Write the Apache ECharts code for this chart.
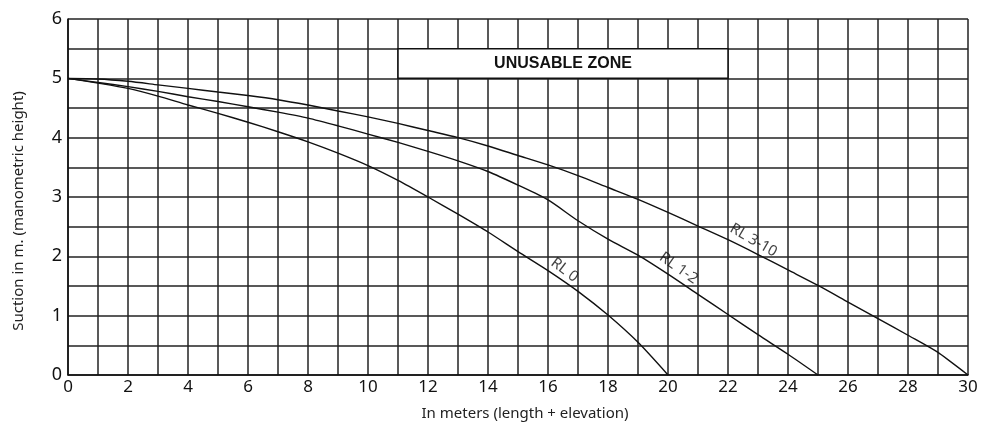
<!DOCTYPE html>
<html><head><meta charset="utf-8">
<script src="https://cdn.jsdelivr.net/npm/echarts@6/dist/echarts.min.js"></script>
<style>html,body{margin:0;padding:0;background:#fff}#c{width:991px;height:426px}</style>
</head><body><div id="c"></div>
<script>
const rl0X = [0,1,2,3,4,5,6,7,8,9,10,11,12,13,14,15,16,17,18,19,20];
const rl0Y = [5,4.92,4.83,4.7,4.55,4.41,4.26,4.1,3.93,3.74,3.53,3.28,3.0,2.71,2.41,2.08,1.76,1.41,1.01,0.55,0];
const rl12X = [0,1,2,3,4,5,6,7,8,9,10,11,12,13,14,15,16,17,18,19,20,21,22,23,24,25];
const rl12Y = [5,4.93,4.86,4.78,4.69,4.61,4.52,4.43,4.33,4.2,4.06,3.92,3.77,3.61,3.43,3.2,2.95,2.6,2.29,2.02,1.7,1.36,1.02,0.68,0.35,0];
const rl310X = [0,1,2,3,4,5,6,7,8,9,10,11,12,13,14,15,16,17,18,19,20,21,22,23,24,25,26,27,28,29,30];
const rl310Y = [5,4.99,4.95,4.89,4.83,4.77,4.71,4.64,4.55,4.45,4.35,4.24,4.12,4.0,3.86,3.7,3.54,3.36,3.16,2.96,2.74,2.51,2.28,2.03,1.77,1.51,1.23,0.95,0.67,0.38,0];
const labelNames = ['RL 0','RL 1-2','RL 3-10'];
const labelX = [16.55, 20.35, 22.85];
const labelY = [1.77, 1.8, 2.27];
const labelAngle = [-37, -35, -30];
const zoneName = 'UNUSABLE ZONE';
const zoneX = [11, 22];
const zoneY = [5, 5.5];
const xAxisName = 'In meters (length + elevation)';
const yAxisName = 'Suction in m. (manometric height)';

const zip = (xs, ys) => xs.map((x, i) => [x, ys[i]]);
const lineStyle = {color:'#111', width:1.4};
const chart = echarts.init(document.getElementById('c'), null, {renderer:'canvas'});
chart.setOption({
  animation:false,
  backgroundColor:'#fff',
  grid:{left:68, right:23, top:19, bottom:47.5, containLabel:false},
  xAxis:{
    type:'value', min:0, max:30, interval:1,
    name:xAxisName, nameLocation:'middle', nameGap:31,
    nameTextStyle:{fontFamily:'Noto Sans', fontSize:15, color:'#222', padding:[0,0,0,14]},
    axisLine:{show:true, onZero:false, lineStyle:{color:'#111', width:1.5}},
    axisTick:{show:false},
    axisLabel:{fontFamily:'Noto Sans', fontSize:17, color:'#111', margin:4,
      formatter:v => (Math.round(v) % 2 === 0 ? String(v) : '')},
    splitLine:{show:true, lineStyle:{color:'#222', width:1.5}}
  },
  yAxis:{
    type:'value', min:0, max:6, interval:0.5,
    name:yAxisName, nameLocation:'middle', nameGap:42,
    nameTextStyle:{fontFamily:'Noto Sans', fontSize:15, color:'#222', padding:[0,28,0,0]},
    axisLine:{show:true, lineStyle:{color:'#111', width:1.5}},
    axisTick:{show:false},
    axisLabel:{fontFamily:'Noto Sans', fontSize:18, color:'#111', margin:6,
      formatter:v => (Number.isInteger(v) ? String(v) : '')},
    splitLine:{show:true, lineStyle:{color:'#222', width:1.5}}
  },
  series:[
    {type:'line', data:zip(rl0X, rl0Y), symbol:'none', smooth:0.25, lineStyle, z:3,
     markArea:{silent:true,
       itemStyle:{color:'#fff', borderColor:'#111', borderWidth:1.5},
       label:{show:true, position:'inside', fontFamily:'Liberation Sans', fontWeight:'bold', fontSize:16, color:'#111'},
       data:[[{name:zoneName, coord:[zoneX[0], zoneY[0]]},{coord:[zoneX[1], zoneY[1]]}]]}},
    {type:'line', data:zip(rl12X, rl12Y), symbol:'none', smooth:0.25, lineStyle, z:3},
    {type:'line', data:zip(rl310X, rl310Y), symbol:'none', smooth:0.25, lineStyle, z:3},
    {type:'scatter', symbolSize:0, z:4, silent:true,
     data:labelNames.map((n,i)=>({value:[labelX[i], labelY[i]],
       label:{show:true, position:'inside', formatter:n, rotate:labelAngle[i],
         fontFamily:'Noto Sans', fontSize:15, color:'#111'}}))}
  ]
});
</script></body></html>
